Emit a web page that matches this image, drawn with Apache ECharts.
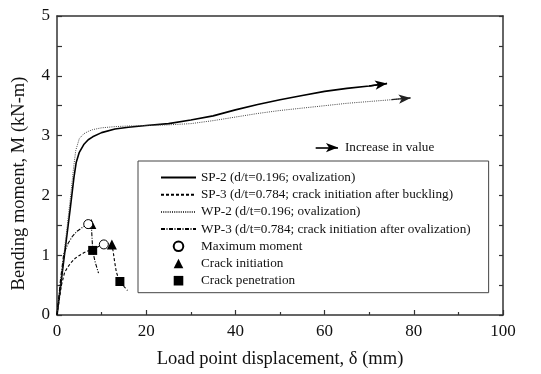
<!DOCTYPE html>
<html>
<head>
<meta charset="utf-8">
<script src="https://cdn.jsdelivr.net/npm/echarts@6/dist/echarts.min.js"></script>
<style>
html,body{margin:0;padding:0;background:#fff;}
#c{width:541px;height:374px;}
</style>
</head>
<body>
<div id="c"></div>
<script>
// ---- data ----
const xTicks = [0, 20, 40, 60, 80, 100];
const yTicks = [0, 1, 2, 3, 4, 5];

const sp2X = [0, 1, 2, 3, 3.8, 4.3, 5, 6, 7, 8, 10, 13, 16, 20, 25, 30, 35, 40, 45, 50, 55, 60, 65, 70, 74];
const sp2Y = [0, 0.6, 1.2, 1.8, 2.3, 2.55, 2.72, 2.85, 2.93, 2.98, 3.05, 3.11, 3.14, 3.17, 3.2, 3.26, 3.33, 3.43, 3.52, 3.6, 3.67, 3.74, 3.79, 3.83, 3.87];

const sp3X = [0, 1.0, 1.7, 2.4, 3.2, 4.1, 5.1, 6.0, 6.9, 8.0, 9.2, 10.5, 11.4, 12.3, 12.6, 12.9, 13.3, 13.7, 14.1, 15.0, 15.8];
const sp3Y = [0, 0.5, 0.71, 0.8, 0.88, 0.95, 1.0, 1.04, 1.07, 1.1, 1.14, 1.18, 1.19, 1.18, 1.06, 0.9, 0.72, 0.63, 0.56, 0.48, 0.41];

const wp2X = [0, 1, 2, 3, 3.7, 4.2, 5, 6, 7, 8, 10, 13, 16, 20, 25, 30, 35, 40, 45, 50, 55, 60, 65, 70, 75, 79.3];
const wp2Y = [0, 0.65, 1.3, 1.95, 2.45, 2.75, 2.95, 3.03, 3.07, 3.1, 3.13, 3.15, 3.16, 3.17, 3.18, 3.2, 3.25, 3.31, 3.37, 3.42, 3.46, 3.5, 3.54, 3.57, 3.6, 3.63];

const wp3X = [0, 0.8, 1.5, 2.5, 3.5, 4.5, 5.8, 7.0, 7.7, 7.85, 8.0, 8.5, 9.3];
const wp3Y = [0, 0.6, 1.02, 1.2, 1.32, 1.4, 1.47, 1.52, 1.51, 1.3, 1.08, 0.9, 0.7];

const maxMomentX = [7.0, 10.5];
const maxMomentY = [1.52, 1.18];
const crackInitX = [7.7, 12.3];
const crackInitY = [1.52, 1.18];
const crackPenX = [8.0, 14.1];
const crackPenY = [1.08, 0.56];

// arrows at curve ends and annotation arrow (data coordinates)
const sp2Arrow = [[70, 3.83], [74, 3.87]];
const wp2Arrow = [[75, 3.6], [79.3, 3.63]];
const noteArrow = [[58, 2.8], [63, 2.8]];
const noteText = 'Increase in value';

const names = [
  'SP-2 (d/t=0.196; ovalization)',
  'SP-3 (d/t=0.784; crack initiation after buckling)',
  'WP-2 (d/t=0.196; ovalization)',
  'WP-3 (d/t=0.784; crack initiation after ovalization)',
  'Maximum moment',
  'Crack initiation',
  'Crack penetration'
];

const zip = (xs, ys) => xs.map((x, i) => [x, ys[i]]);

const FONT = '"Liberation Serif", "Times New Roman", serif';
const AX = '#333';

const chart = echarts.init(document.getElementById('c'), null, {renderer: 'canvas'});

const arrowLine = (coords, style) => ({
  silent: true,
  symbol: ['none', 'arrow'],
  symbolSize: [7, 12],
  label: {show: false},
  lineStyle: style,
  data: [[{coord: coords[0]}, {coord: coords[1]}]]
});

const hiddenItem = {color: 'transparent', borderWidth: 0};

chart.setOption({
  animation: false,
  backgroundColor: '#fff',
  textStyle: {fontFamily: FONT, color: '#111'},
  grid: {left: 57, right: 38, top: 16, bottom: 58},
  xAxis: [{
    type: 'value', min: 0, max: 100, interval: 20,
    name: 'Load point displacement, δ (mm)', nameLocation: 'middle', nameGap: 35,
    nameTextStyle: {fontFamily: FONT, fontSize: 18.5, color: '#111'},
    axisLine: {lineStyle: {color: AX, width: 1.5}},
    axisTick: {inside: true, length: 5, lineStyle: {color: AX, width: 1.2}},
    minorTick: {show: true, splitNumber: 2, length: 3, lineStyle: {color: AX, width: 1.2}},
    splitLine: {show: false},
    axisLabel: {fontFamily: FONT, fontSize: 17, color: '#111', margin: 8,
      formatter: v => xTicks.includes(v) ? String(v) : ''}
  }, {
    type: 'value', position: 'top', min: 0, max: 100,
    axisLine: {show: true, onZero: false, lineStyle: {color: AX, width: 1.5}},
    axisTick: {show: false}, axisLabel: {show: false}, splitLine: {show: false}
  }],
  yAxis: [{
    type: 'value', min: 0, max: 5, interval: 1,
    name: 'Bending moment, M (kN-m)', nameLocation: 'middle', nameGap: 28,
    nameTextStyle: {fontFamily: FONT, fontSize: 18.5, color: '#111', padding: [0, 36, 0, 0]},
    axisLine: {show: true, lineStyle: {color: AX, width: 1.5}},
    axisTick: {inside: true, length: 5, lineStyle: {color: AX, width: 1.2}},
    minorTick: {show: true, splitNumber: 2, length: 5, lineStyle: {color: AX, width: 1.2}},
    splitLine: {show: false},
    axisLabel: {fontFamily: FONT, fontSize: 17, color: '#111', margin: 7,
      formatter: v => yTicks.includes(v) ? String(v) : ''}
  }, {
    type: 'value', position: 'right', min: 0, max: 5, interval: 0.5,
    axisLine: {show: true, onZero: false, lineStyle: {color: AX, width: 1.5}},
    axisTick: {show: true, inside: true, length: 4, lineStyle: {color: AX, width: 1.2}},
    axisLabel: {show: false}, splitLine: {show: false}
  }],
  legend: {
    data: names,
    orient: 'vertical',
    left: 138, top: 161,
    padding: [10, 18, 5.5, 22],
    itemGap: 4.2,
    itemWidth: 35, itemHeight: 12,
    borderColor: '#444', borderWidth: 1,
    selectedMode: false,
    textStyle: {fontFamily: FONT, fontSize: 13.2, color: '#111'}
  },
  series: [
    {
      name: names[0], type: 'line', data: zip(sp2X, sp2Y), showSymbol: false, symbol: 'none',
      lineStyle: {color: '#000', width: 1.6, type: 'solid'}, itemStyle: hiddenItem, z: 3,
      markLine: arrowLine(sp2Arrow, {color: '#000', width: 1.6, type: 'solid'})
    },
    {
      name: names[1], type: 'line', data: zip(sp3X, sp3Y), showSymbol: false, symbol: 'none',
      lineStyle: {color: '#000', width: 1.1, type: [3, 2]}, itemStyle: hiddenItem, z: 3
    },
    {
      name: names[2], type: 'line', data: zip(wp2X, wp2Y), showSymbol: false, symbol: 'none',
      lineStyle: {color: '#444', width: 1, type: [1, 1.2]}, itemStyle: hiddenItem, z: 3,
      markLine: arrowLine(wp2Arrow, {color: '#222', width: 1.2, type: 'solid'})
    },
    {
      name: names[3], type: 'line', data: zip(wp3X, wp3Y), showSymbol: false, symbol: 'none',
      lineStyle: {color: '#000', width: 1.1, type: [4, 1.5, 1, 1.5]}, itemStyle: hiddenItem, z: 3,
      markLine: {
        silent: true,
        symbol: ['none', 'arrow'],
        symbolSize: [7, 12],
        lineStyle: {color: '#000', width: 1.6, type: 'solid'},
        label: {show: true, position: 'end', formatter: noteText, distance: 7,
          fontFamily: FONT, fontSize: 13.2, color: '#111'},
        data: [[{coord: noteArrow[0]}, {coord: noteArrow[1]}]]
      }
    },
    {
      name: names[5], type: 'line', data: zip(crackInitX, crackInitY),
      symbol: 'triangle', symbolSize: 10, showSymbol: true,
      lineStyle: {width: 0, color: 'transparent'},
      itemStyle: {color: '#000'}, z: 4
    },
    {
      name: names[4], type: 'line', data: zip(maxMomentX, maxMomentY),
      symbol: 'circle', symbolSize: 9, showSymbol: true,
      lineStyle: {width: 0, color: 'transparent'},
      itemStyle: {color: '#fff', borderColor: '#000', borderWidth: 1}, z: 5
    },
    {
      name: names[6], type: 'line', data: zip(crackPenX, crackPenY),
      symbol: 'rect', symbolSize: 9, showSymbol: true,
      lineStyle: {width: 0, color: 'transparent'},
      itemStyle: {color: '#000'}, z: 5
    }
  ]
});
</script>
</body>
</html>
